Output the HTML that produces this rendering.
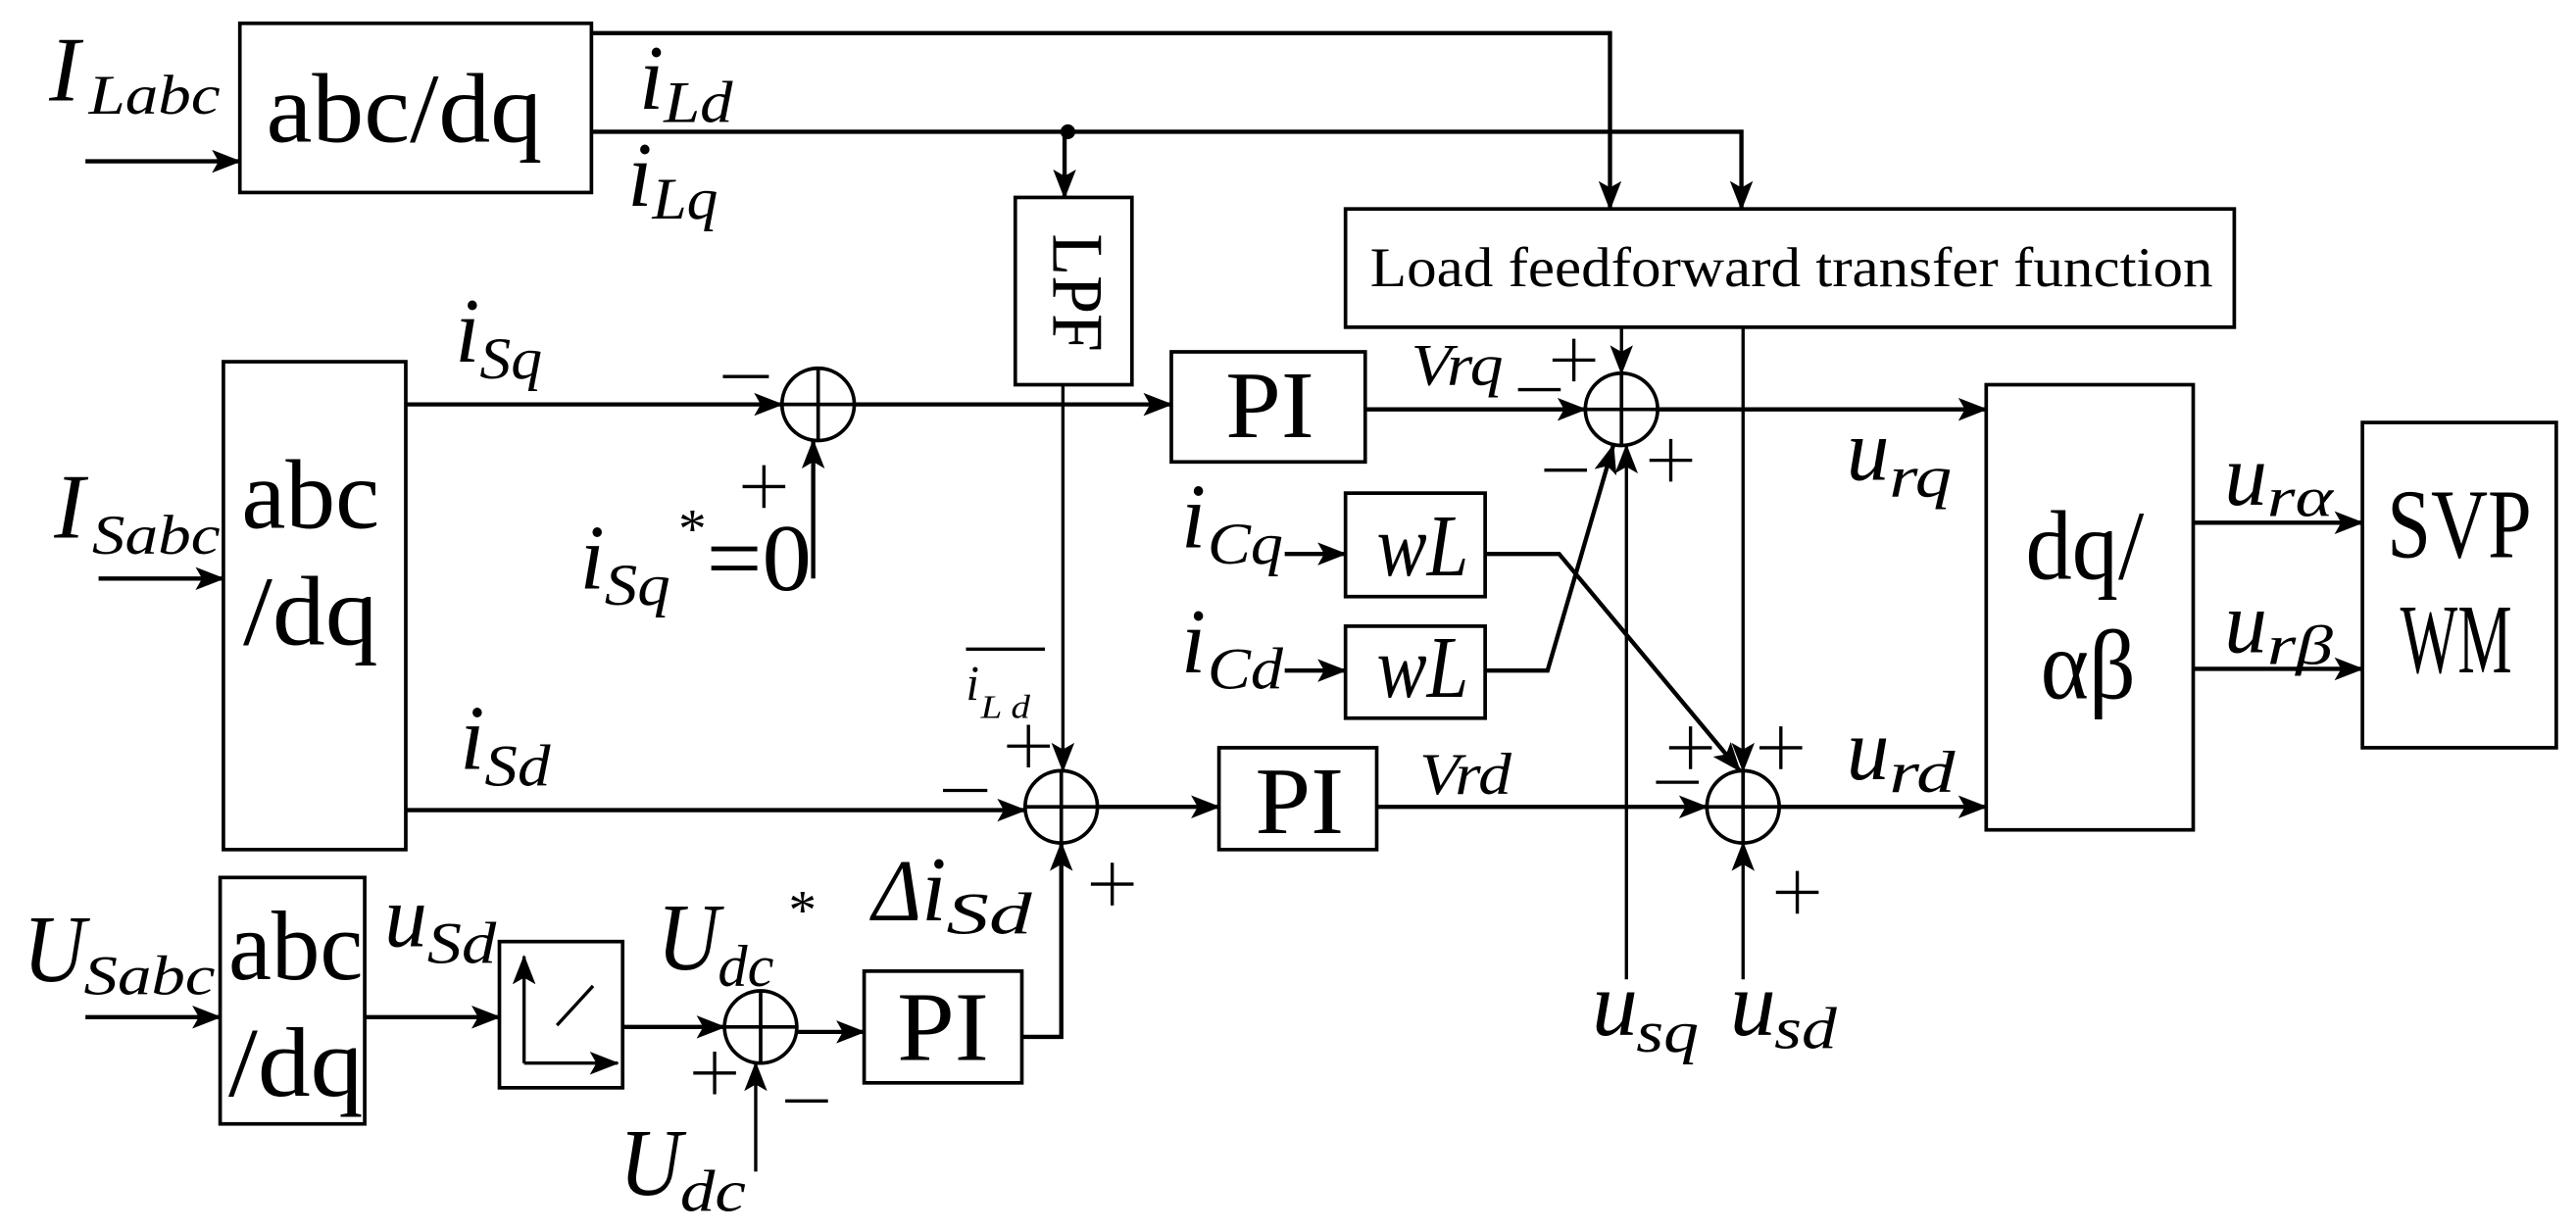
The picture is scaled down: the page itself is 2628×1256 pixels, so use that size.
<!DOCTYPE html>
<html><head><meta charset="utf-8"><style>
html,body{margin:0;padding:0;background:#fff}
svg{display:block}
text{font-family:"Liberation Serif","Times New Roman",Times,serif;fill:#000}
.i{font-style:italic}
</style></head><body>
<svg width="2628" height="1256" viewBox="0 0 1568 749" xmlns="http://www.w3.org/2000/svg" font-family="Liberation Serif, Times New Roman, serif">
<defs>
<marker id="a" markerUnits="userSpaceOnUse" markerWidth="18" markerHeight="14" refX="17" refY="7" orient="auto">
<path d="M0,0 L18,7 L0,14 L4,7 Z" fill="#000"/></marker>
</defs>
<g fill="none" stroke="#000" stroke-width="2.2">
<rect x="146" y="14" width="214" height="103"/>
<rect x="618" y="120" width="71" height="114"/>
<rect x="819" y="127" width="541" height="72"/>
<rect x="136" y="220" width="111" height="297"/>
<rect x="713" y="214" width="118" height="67"/>
<rect x="819" y="300" width="85" height="63"/>
<rect x="819" y="381" width="85" height="56"/>
<rect x="742" y="455" width="96" height="62"/>
<rect x="1209" y="234" width="126" height="271"/>
<rect x="1438" y="257" width="118" height="198"/>
<rect x="134" y="534" width="88" height="150"/>
<rect x="304" y="573" width="75" height="89"/>
<rect x="526" y="591" width="96" height="68"/>
<ellipse cx="498" cy="246" rx="22" ry="22"/>
<line x1="476" y1="246" x2="520" y2="246"/><line x1="498" y1="224" x2="498" y2="268"/>
<ellipse cx="646" cy="491" rx="22" ry="22"/>
<line x1="624" y1="491" x2="668" y2="491"/><line x1="646" y1="469" x2="646" y2="513"/>
<ellipse cx="987" cy="249" rx="22" ry="22"/>
<line x1="965" y1="249" x2="1009" y2="249"/><line x1="987" y1="227" x2="987" y2="271"/>
<ellipse cx="1061" cy="491" rx="22" ry="22"/>
<line x1="1039" y1="491" x2="1083" y2="491"/><line x1="1061" y1="469" x2="1061" y2="513"/>
<ellipse cx="463" cy="625" rx="22" ry="22"/>
<line x1="441" y1="625" x2="485" y2="625"/><line x1="463" y1="603" x2="463" y2="647"/>
</g>
<g fill="none" stroke="#000" stroke-width="2.6">
<line x1="52" y1="98" x2="146" y2="98" marker-end="url(#a)"/>
<polyline points="360,20 980,20 980,127" marker-end="url(#a)"/>
<polyline points="360,80 1060,80 1060,127" marker-end="url(#a)"/>
<line x1="648" y1="80" x2="648" y2="120" marker-end="url(#a)"/>
<line x1="247" y1="246" x2="476" y2="246" marker-end="url(#a)"/>
<line x1="495" y1="352" x2="495" y2="268" marker-end="url(#a)"/>
<line x1="520" y1="246" x2="713" y2="246" marker-end="url(#a)"/>
<line x1="60" y1="352" x2="136" y2="352" marker-end="url(#a)"/>
<line x1="247" y1="493" x2="624" y2="493" marker-end="url(#a)"/>
<line x1="668" y1="491" x2="742" y2="491" marker-end="url(#a)"/>
<line x1="831" y1="249" x2="965" y2="249" marker-end="url(#a)"/>
<line x1="1009" y1="249" x2="1209" y2="249" marker-end="url(#a)"/>
<line x1="838" y1="491" x2="1039" y2="491" marker-end="url(#a)"/>
<line x1="1083" y1="491" x2="1209" y2="491" marker-end="url(#a)"/>
<line x1="1335" y1="318" x2="1438" y2="318" marker-end="url(#a)"/>
<line x1="1335" y1="407" x2="1438" y2="407" marker-end="url(#a)"/>
<line x1="782" y1="337" x2="819" y2="337" marker-end="url(#a)"/>
<line x1="782" y1="408" x2="819" y2="408" marker-end="url(#a)"/>
<polyline points="904,337 949,337 1059,469" marker-end="url(#a)"/>
<polyline points="904,408 942,408 982,271" marker-end="url(#a)"/>
<line x1="52" y1="619" x2="134" y2="619" marker-end="url(#a)"/>
<line x1="222" y1="619" x2="304" y2="619" marker-end="url(#a)"/>
<line x1="379" y1="625" x2="441" y2="625" marker-end="url(#a)"/>
<line x1="485" y1="628" x2="526" y2="628" marker-end="url(#a)"/>
<polyline points="622,631 646,631 646,513" marker-end="url(#a)"/>
</g>
<g fill="none" stroke="#000" stroke-width="2">
<line x1="647" y1="234" x2="647" y2="469" marker-end="url(#a)"/>
<line x1="987" y1="199" x2="987" y2="227" marker-end="url(#a)"/>
<line x1="990" y1="596" x2="990" y2="271" marker-end="url(#a)"/>
<line x1="1061" y1="199" x2="1061" y2="469" marker-end="url(#a)"/>
<line x1="1061" y1="596" x2="1061" y2="513" marker-end="url(#a)"/>
<line x1="460" y1="713" x2="460" y2="647" marker-end="url(#a)"/>
<line x1="319" y1="647" x2="319" y2="582" marker-end="url(#a)"/>
<line x1="319" y1="647" x2="376" y2="647" marker-end="url(#a)"/>
<line x1="339" y1="624" x2="361" y2="600"/>
<line x1="588" y1="395" x2="636" y2="395"/>
</g>
<circle cx="650" cy="80" r="4.5" fill="#000"/>
<g stroke="#000" stroke-width="2" fill="none">
<path d="M440,229h28 M465,283v26 M452,296h26 M574,481h27 M613,454h26 M626,441v26 M664,538h26 M677,525v26 M945,219h26 M958,206v26 M924,237h26 M940,286h26 M1004,280h26 M1017,267v26 M1016,455h26 M1029,442v26 M1008,476h26 M1071,455h26 M1084,442v26 M1081,543h26 M1094,530v26 M422,653h26 M435,640v26 M478,670h26"/>
</g>
<text class="i" x="30" y="61" font-size="56">I</text><text class="i" x="54" y="69" font-size="34" textLength="80" lengthAdjust="spacingAndGlyphs">Labc</text>
<text x="162" y="86" font-size="60" textLength="168" lengthAdjust="spacingAndGlyphs">abc/dq</text>
<text class="i" x="389" y="66" font-size="56" textLength="15" lengthAdjust="spacingAndGlyphs">i</text><text class="i" x="404" y="74" font-size="36" textLength="42" lengthAdjust="spacingAndGlyphs">Ld</text>
<text class="i" x="382" y="125" font-size="56" textLength="15" lengthAdjust="spacingAndGlyphs">i</text><text class="i" x="397" y="133" font-size="36" textLength="40" lengthAdjust="spacingAndGlyphs">Lq</text>
<text x="0" y="0" font-size="44" transform="translate(641,142) rotate(90)" textLength="72" lengthAdjust="spacingAndGlyphs">LPF</text>
<text x="834" y="174" font-size="34" textLength="513" lengthAdjust="spacingAndGlyphs">Load feedforward transfer function</text>
<text class="i" x="277" y="220" font-size="56" textLength="15" lengthAdjust="spacingAndGlyphs">i</text><text class="i" x="292" y="230" font-size="36" textLength="38" lengthAdjust="spacingAndGlyphs">Sq</text>
<text class="i" x="353" y="358" font-size="56" textLength="15" lengthAdjust="spacingAndGlyphs">i</text><text class="i" x="368" y="368" font-size="36" textLength="40" lengthAdjust="spacingAndGlyphs">Sq</text>
<text x="413" y="333" font-size="34">*</text><text x="430" y="359" font-size="58" textLength="64" lengthAdjust="spacingAndGlyphs">=0</text>
<text class="i" x="33" y="327" font-size="56">I</text><text class="i" x="56" y="337" font-size="34" textLength="78" lengthAdjust="spacingAndGlyphs">Sabc</text>
<text x="147" y="321" font-size="60" textLength="84" lengthAdjust="spacingAndGlyphs">abc</text>
<text x="148" y="392" font-size="60" textLength="82" lengthAdjust="spacingAndGlyphs">/dq</text>
<text x="746" y="266" font-size="58" textLength="54" lengthAdjust="spacingAndGlyphs">PI</text>
<text class="i" x="859" y="234" font-size="36" textLength="56" lengthAdjust="spacingAndGlyphs">Vrq</text>
<text class="i" x="719" y="333" font-size="56" textLength="15" lengthAdjust="spacingAndGlyphs">i</text><text class="i" x="735" y="343" font-size="36" textLength="46" lengthAdjust="spacingAndGlyphs">Cq</text>
<text class="i" x="719" y="409" font-size="56" textLength="15" lengthAdjust="spacingAndGlyphs">i</text><text class="i" x="735" y="419" font-size="36" textLength="46" lengthAdjust="spacingAndGlyphs">Cd</text>
<text class="i" x="838" y="350" font-size="54" textLength="56" lengthAdjust="spacingAndGlyphs">wL</text>
<text class="i" x="838" y="424" font-size="54" textLength="56" lengthAdjust="spacingAndGlyphs">wL</text>
<text class="i" x="588" y="426" font-size="30" textLength="8" lengthAdjust="spacingAndGlyphs">i</text><text class="i" x="597" y="437" font-size="20" textLength="30" lengthAdjust="spacingAndGlyphs">L d</text>
<text class="i" x="280" y="468" font-size="56" textLength="15" lengthAdjust="spacingAndGlyphs">i</text><text class="i" x="295" y="478" font-size="36" textLength="40" lengthAdjust="spacingAndGlyphs">Sd</text>
<text x="764" y="507" font-size="58" textLength="54" lengthAdjust="spacingAndGlyphs">PI</text>
<text class="i" x="864" y="483" font-size="36" textLength="56" lengthAdjust="spacingAndGlyphs">Vrd</text>
<text class="i" x="1124" y="292" font-size="54" textLength="26" lengthAdjust="spacingAndGlyphs">u</text><text class="i" x="1150" y="302" font-size="36" textLength="38" lengthAdjust="spacingAndGlyphs">rq</text>
<text class="i" x="1124" y="474" font-size="54" textLength="26" lengthAdjust="spacingAndGlyphs">u</text><text class="i" x="1150" y="482" font-size="36" textLength="40" lengthAdjust="spacingAndGlyphs">rd</text>
<text x="1233" y="352" font-size="60" textLength="72" lengthAdjust="spacingAndGlyphs">dq/</text>
<text x="1242" y="425" font-size="60" textLength="58" lengthAdjust="spacingAndGlyphs">αβ</text>
<text class="i" x="1354" y="307" font-size="54" textLength="26" lengthAdjust="spacingAndGlyphs">u</text><text class="i" x="1380" y="314" font-size="34" textLength="40" lengthAdjust="spacingAndGlyphs">rα</text>
<text class="i" x="1354" y="397" font-size="54" textLength="26" lengthAdjust="spacingAndGlyphs">u</text><text class="i" x="1380" y="404" font-size="34" textLength="40" lengthAdjust="spacingAndGlyphs">rβ</text>
<text x="1453" y="339" font-size="60" textLength="88" lengthAdjust="spacingAndGlyphs">SVP</text>
<text x="1461" y="409" font-size="60" textLength="68" lengthAdjust="spacingAndGlyphs">WM</text>
<text class="i" x="969" y="630" font-size="56" textLength="28" lengthAdjust="spacingAndGlyphs">u</text><text class="i" x="996" y="640" font-size="36" textLength="38" lengthAdjust="spacingAndGlyphs">sq</text>
<text class="i" x="1053" y="630" font-size="56" textLength="28" lengthAdjust="spacingAndGlyphs">u</text><text class="i" x="1080" y="638" font-size="36" textLength="38" lengthAdjust="spacingAndGlyphs">sd</text>
<text class="i" x="14" y="597" font-size="58" textLength="38" lengthAdjust="spacingAndGlyphs">U</text><text class="i" x="51" y="605" font-size="34" textLength="80" lengthAdjust="spacingAndGlyphs">Sabc</text>
<text x="139" y="596" font-size="60" textLength="82" lengthAdjust="spacingAndGlyphs">abc</text>
<text x="139" y="667" font-size="60" textLength="82" lengthAdjust="spacingAndGlyphs">/dq</text>
<text class="i" x="234" y="576" font-size="54" textLength="26" lengthAdjust="spacingAndGlyphs">u</text><text class="i" x="260" y="586" font-size="36" textLength="42" lengthAdjust="spacingAndGlyphs">Sd</text>
<text class="i" x="400" y="590" font-size="58" textLength="38" lengthAdjust="spacingAndGlyphs">U</text><text class="i" x="437" y="600" font-size="36" textLength="34" lengthAdjust="spacingAndGlyphs">dc</text>
<text x="480" y="565" font-size="34">*</text>
<text class="i" x="531" y="560" font-size="54" textLength="30" lengthAdjust="spacingAndGlyphs">Δ</text><text class="i" x="561" y="560" font-size="56" textLength="15" lengthAdjust="spacingAndGlyphs">i</text><text class="i" x="576" y="568" font-size="36" textLength="52" lengthAdjust="spacingAndGlyphs">Sd</text>
<text x="546" y="645" font-size="60" textLength="56" lengthAdjust="spacingAndGlyphs">PI</text>
<text class="i" x="377" y="727" font-size="58" textLength="38" lengthAdjust="spacingAndGlyphs">U</text><text class="i" x="414" y="737" font-size="36" textLength="40" lengthAdjust="spacingAndGlyphs">dc</text>
</svg>
</body></html>
